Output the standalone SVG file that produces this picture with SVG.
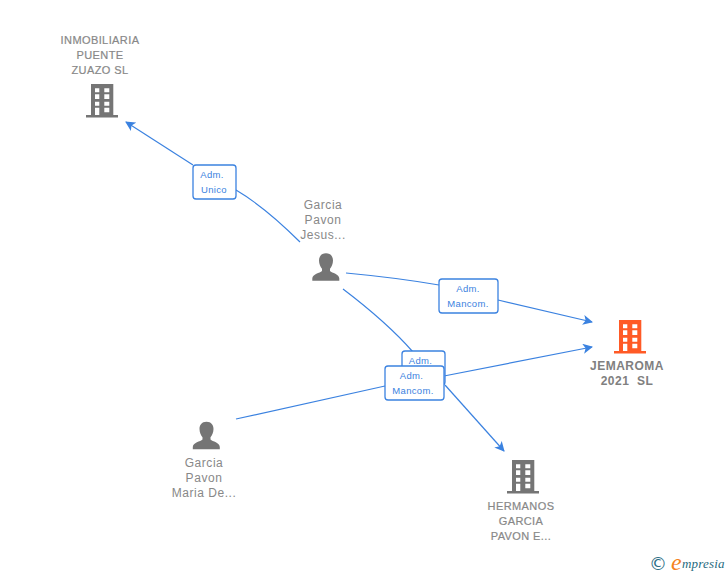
<svg xmlns="http://www.w3.org/2000/svg" width="728" height="575" viewBox="0 0 728 575">
<style>
.lbl{font-family:"Liberation Sans",Arial,sans-serif;font-size:12px;fill:#888;text-anchor:middle;letter-spacing:.55px}
.co{font-size:11px;letter-spacing:.4px;stroke:#888;stroke-width:.2px}
.main{font-weight:bold;font-size:12px;fill:#808080;letter-spacing:.5px}
.edge{fill:none;stroke:#3b82e0;stroke-width:1.2}
.box{fill:#fff;stroke:#3b82e0;stroke-width:1.3}
.tag{font-family:"Liberation Sans",Arial,sans-serif;font-size:9.5px;fill:#3b82e0;text-anchor:middle;letter-spacing:.35px}
</style>
<defs>
<marker id="arrow" viewBox="0 0 10 10" refX="9" refY="5" markerWidth="10" markerHeight="10" markerUnits="userSpaceOnUse" orient="auto"><path d="M0 0L10 5L0 10L2.500 5Z" fill="#3b82e0"/></marker>
<path id="bld" fill-rule="evenodd" d="M91 84H113.3V115H118V117.5H86V115H91ZM95 88.3V92.3H99.3V88.3ZM104.3 88.3V92.3H109.3V88.3ZM95 94.3V99H99.3V94.3ZM104.3 94.3V99H109.3V94.3ZM95 101.7V105.7H99.3V101.7ZM104.3 101.7V105.7H109.3V101.7ZM95 107.7V115H99.3V107.7ZM104.3 107.7V112.3H109.3V107.7Z"/>
<path id="psn" d="M326 253.300C330.800 253.300 333 256.600 333 260.500C333 264 331.500 267 330 268.800V271C332 273 339.300 274 339.300 278.500V280.700H312.300V278.500C312.300 274 320 273 322 271V268.800C320.500 267 319 264 319 260.500C319 256.600 321.200 253.300 326 253.300Z"/>
</defs>
<g id="connectors">
<path class="edge" d="M300 242C280 222 258 203 236 190"/>
<path class="edge" d="M193 165L126 122" marker-end="url(#arrow)"/>
<path class="edge" d="M346 273C378 276 410 280 439 285"/>
<path class="edge" d="M498 300L592 322" marker-end="url(#arrow)"/>
<path class="edge" d="M343 289C368 308 392 328 413 352"/>
<path class="edge" d="M445 385L504 451" marker-end="url(#arrow)"/>
<path class="edge" d="M236 419L385 386"/>
<path class="edge" d="M444 376L592 347" marker-end="url(#arrow)"/>
</g>
<g id="edge-label-1"><rect class="box" x="193" y="165" width="43" height="34" rx="3"/><text class="tag" x="212" y="178">Adm.</text><text class="tag" x="214" y="193">Unico</text></g>
<g id="edge-label-2"><rect class="box" x="439" y="279" width="59" height="34" rx="3"/><text class="tag" x="468" y="292">Adm.</text><text class="tag" x="468" y="307">Mancom.</text></g>
<g id="edge-label-3"><rect class="box" x="402" y="351" width="43" height="34" rx="3"/><text class="tag" x="420.500" y="364">Adm.</text></g>
<g id="edge-label-4"><rect class="box" x="385" y="366" width="59" height="34" rx="3"/><text class="tag" x="411.500" y="379">Adm.</text><text class="tag" x="413" y="394">Mancom.</text></g>
<g id="node-inmobiliaria"><text class="lbl co" x="100" y="44">INMOBILIARIA</text><text class="lbl co" x="100" y="59">PUENTE</text><text class="lbl co" x="100" y="74">ZUAZO SL</text><use href="#bld" fill="#757575"/></g>
<g id="node-jesus"><text class="lbl" x="323" y="209">Garcia</text><text class="lbl" x="323" y="224">Pavon</text><text class="lbl" x="323" y="239">Jesus...</text><use href="#psn" fill="#757575"/></g>
<g id="node-jemaroma"><use href="#bld" x="528" y="236" fill="#ff5a26"/><text class="lbl main" x="627" y="370">JEMAROMA</text><text class="lbl main" x="627" y="385" xml:space="preserve">2021  SL</text></g>
<g id="node-maria"><use href="#psn" x="-119.500" y="168.500" fill="#757575"/><text class="lbl" x="204" y="467">Garcia</text><text class="lbl" x="204" y="482">Pavon</text><text class="lbl" x="204" y="497">Maria De...</text></g>
<g id="node-hermanos"><use href="#bld" x="421" y="376" fill="#757575"/><text class="lbl co" x="521" y="510">HERMANOS</text><text class="lbl co" x="521" y="525">GARCIA</text><text class="lbl co" x="521" y="540">PAVON E...</text></g>
<g id="logo"><text x="658" y="570" font-family="'DejaVu Sans',sans-serif" font-size="18" fill="#2d6f86" text-anchor="middle">©</text><text x="671" y="570" font-family="'Liberation Serif',serif" font-style="italic" font-size="24" fill="#f58220">e</text><text x="682" y="568" font-family="'Liberation Serif',serif" font-style="italic" font-size="13" letter-spacing=".2" fill="#1f6b80">mpresia</text></g>
</svg>
